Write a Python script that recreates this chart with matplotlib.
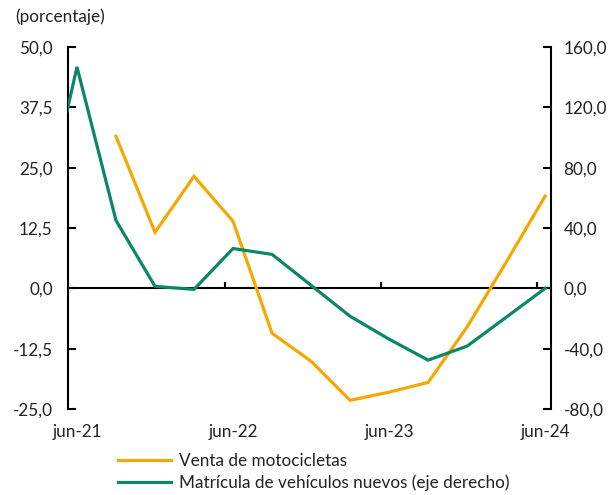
import matplotlib.pyplot as plt
from matplotlib.ticker import FuncFormatter

plt.rcParams['font.family'] = ['Lato', 'DejaVu Sans']

# quarters, jun-21 = 0 ; mar-21 (-1) only feeds the clipped start of the green line
quarters = list(range(-1, 13))
motos_x = list(range(1, 13))
motos = [31.5, 11.6, 23.2, 13.9, -9.3, -15.1, -23.2, -21.5, -19.5, -8.0, 5.4, 19.1]
matriculas = [31.6, 146.8, 45.0, 1.3, -0.7, 26.4, 22.5, 2.0, -18.5, -33.7, -47.6, -38.3, -19.2, 0.0]
xtick_pos = [0, 4, 8, 12]
xtick_labels = ['jun-21', 'jun-22', 'jun-23', 'jun-24']

orange = '#F4A800'
green = '#0C8668'
txt = '#222222'
fs = 12.3

fig = plt.figure(figsize=(6.08, 4.95), dpi=100)
ax = fig.add_axes([68 / 608, 1 - 409 / 495, (551 - 68) / 608, (409 - 47) / 495])
ax2 = ax.twinx()

l1, = ax.plot(motos_x, motos, color=orange, lw=2.3, solid_joinstyle='miter', zorder=3)
l2, = ax2.plot(quarters, matriculas, color=green, lw=2.3, solid_joinstyle='miter', zorder=3)

ax.set_xlim(-0.23, 12.15)
ax.set_ylim(-25, 50)
ax2.set_ylim(-80, 160)
ax.set_yticks([-25, -12.5, 0, 12.5, 25, 37.5, 50])
ax2.set_yticks([-80, -40, 0, 40, 80, 120, 160])

comma = FuncFormatter(lambda v, p: f'{v:.1f}'.replace('.', ','))
ax.yaxis.set_major_formatter(comma)
ax2.yaxis.set_major_formatter(comma)

for a in (ax, ax2):
    for s in ('top', 'bottom'):
        a.spines[s].set_visible(False)
    a.spines['left'].set_linewidth(1.5)
    a.spines['right'].set_linewidth(1.5)
ax.spines['right'].set_visible(False)
ax2.spines['left'].set_visible(False)

ax.tick_params(axis='y', direction='in', length=6, width=1.5, pad=11, labelsize=fs, labelcolor=txt)
ax2.tick_params(axis='y', direction='in', length=6, width=1.5, pad=9, labelsize=fs, labelcolor=txt)

ax.set_xticks(xtick_pos)
ax.set_xticklabels(xtick_labels)
ax.tick_params(axis='x', length=0, pad=11, labelsize=fs, labelcolor=txt)

# zero line with small category ticks
zero = ax.secondary_xaxis(25 / 75)
zero.spines['bottom'].set_linewidth(1.5)
zero.set_xticks([3.8, 7.8, 11.8])
zero.set_xticklabels([])
zero.tick_params(direction='in', length=4, width=1.5)

fig.text(15 / 608, 1 - 17 / 495, '(porcentaje)', fontsize=fs, color=txt, va='center')

fig.legend([l1, l2], ['Venta de motocicletas', 'Matrícula de vehículos nuevos (eje derecho)'],
           loc='upper left', bbox_to_anchor=(118 / 608, 1 - 453 / 495), frameon=False,
           fontsize=fs, handlelength=3.1, handletextpad=0.45, labelspacing=0.3,
           borderaxespad=0, borderpad=0, labelcolor=txt)

fig.savefig('out.png', dpi=100, facecolor='white')
